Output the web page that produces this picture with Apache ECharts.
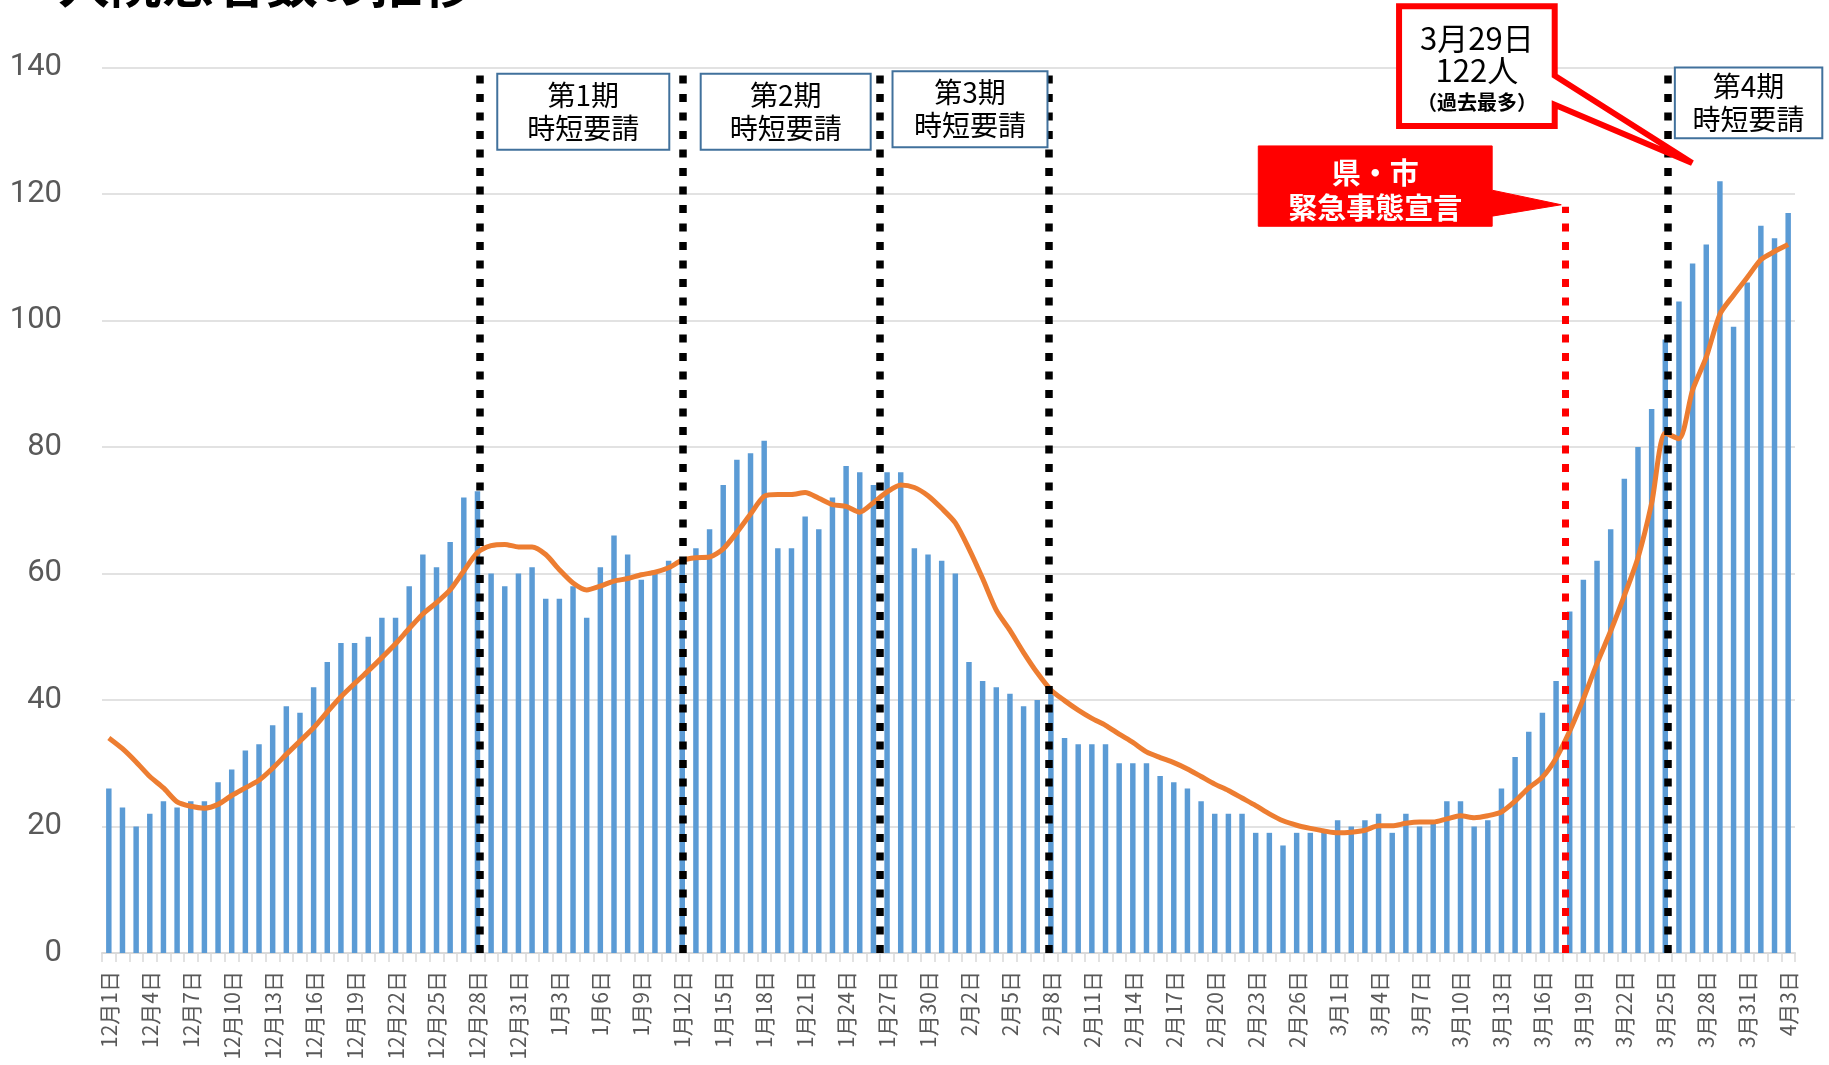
<!DOCTYPE html>
<html>
<head>
<meta charset="utf-8">
<script src="https://cdn.jsdelivr.net/npm/echarts@6/dist/echarts.min.js"></script>
<style>
html,body{margin:0;padding:0;background:#ffffff;}
#main{width:1829px;height:1065px;}
</style>
</head>
<body>
<div id="main"></div>
<script>
// ---------- categories (Dec 1 .. Apr 3) ----------
const monthDays = [[12, 31], [1, 31], [2, 28], [3, 31], [4, 3]];
const categories = [];
monthDays.forEach(function (md) { for (let d = 1; d <= md[1]; d++) categories.push(md[0] + '月' + d + '日'); });

// ---------- daily values (bars) ----------
const casesDec = [26, 23, 20, 22, 24, 23, 24, 24, 27, 29, 32, 33, 36, 39, 38, 42, 46, 49, 49, 50, 53, 53, 58, 63, 61, 65, 72, 73, 60, 58, 60];
const casesJan = [61, 56, 56, 58, 53, 61, 66, 63, 59, 60, 62, 62, 64, 67, 74, 78, 79, 81, 64, 64, 69, 67, 72, 77, 76, 74, 76, 76, 64, 63, 62];
const casesFeb = [60, 46, 43, 42, 41, 39, 40, 41, 34, 33, 33, 33, 30, 30, 30, 28, 27, 26, 24, 22, 22, 22, 19, 19, 17, 19, 19, 19];
const casesMar = [21, 20, 21, 22, 19, 22, 20, 21, 24, 24, 20, 21, 26, 31, 35, 38, 43, 54, 59, 62, 67, 75, 80, 86, 97, 103, 109, 112, 122, 99, 106];
const casesApr = [115, 113, 117];

// ---------- average line (orange) ----------
const avgDec = [34.0, 32.3, 30.2, 27.9, 26.1, 23.9, 23.2, 22.9, 23.5, 24.9, 26.1, 27.3, 29.2, 31.4, 33.5, 35.6, 38.1, 40.5, 42.6, 44.6, 46.7, 48.9, 51.3, 53.6, 55.4, 57.4, 60.4, 63.3, 64.4, 64.6, 64.2];
const avgJan = [64.2, 63.0, 60.6, 58.5, 57.4, 58.0, 58.8, 59.2, 59.8, 60.2, 60.9, 62.1, 62.5, 62.6, 63.9, 66.5, 69.4, 72.2, 72.5, 72.5, 72.8, 71.9, 70.9, 70.6, 69.7, 71.2, 72.9, 74.0, 73.6, 72.3, 70.3];
const avgFeb = [68.0, 63.9, 59.2, 54.2, 51.0, 47.5, 44.3, 41.6, 39.9, 38.4, 37.1, 36.0, 34.6, 33.3, 31.8, 30.9, 30.1, 29.1, 27.9, 26.7, 25.7, 24.5, 23.3, 22.0, 20.9, 20.2, 19.7, 19.3];
const avgMar = [19.0, 19.1, 19.4, 20.1, 20.1, 20.5, 20.7, 20.7, 21.2, 21.7, 21.4, 21.7, 22.3, 24.0, 26.1, 27.8, 30.8, 35.1, 40.2, 45.8, 50.9, 56.5, 62.5, 71.1, 82.2, 81.3, 89.0, 94.2, 101.0, 104.0, 106.8];
const avgApr = [109.6, 110.9, 112.0];

// ---------- axis ----------
const yMin = 0, yMax = 140, yStep = 20;
const titleText = '入院患者数の推移';

// ---------- annotations (category index, value) ----------
const blackLines = [27.2, 42.05, 56.5, 68.85, 114.15];
const redLine = { x: 106.65, top: 118 };
const periodBoxes = [
  { text: '第1期\n時短要請', x0: 28.45, x1: 41.05, y0: 139.0, y1: 127.0 },
  { text: '第2期\n時短要請', x0: 43.35, x1: 55.8, y0: 139.0, y1: 127.0 },
  { text: '第3期\n時短要請', x0: 57.4, x1: 68.75, y0: 139.4, y1: 127.4 },
  { text: '第4期\n時短要請', x0: 114.7, x1: 125.5, y0: 140.0, y1: 128.8 }
];
const peakNote = { lines: ['3月29日', '122人', '（過去最多）'], lineY: [144.6, 139.6, 134.5], x0: 94.5, x1: 105.9, y0: 149.7, y1: 130.75, p1: 138.7, p2: 134.1, tip: [115.97, 124.9] };
const declNote = { lines: ['県・市', '緊急事態宣言'], lineY: [123.35, 117.8], x0: 84.19, x1: 101.32, y0: 127.6, y1: 114.9, p1: 120.6, p2: 116.5, tip: [106.38, 118.3] };

const cases = [].concat(casesDec, casesJan, casesFeb, casesMar, casesApr);
const avg = [].concat(avgDec, avgJan, avgFeb, avgMar, avgApr);

const CJK = '"Noto Sans CJK JP", "Noto Sans", sans-serif';

const lineData = blackLines.map(function (x) {
  return [{ coord: [x, 0], lineStyle: { color: '#000000', width: 7.5, type: [8, 10.5], cap: 'butt' } }, { coord: [x, 139.6] }];
});
lineData.push([{ coord: [redLine.x, 0], lineStyle: { color: '#ff0000', width: 7, type: [8, 10.5], cap: 'butt' } }, { coord: [redLine.x, redLine.top] }]);

const option = {
  animation: false,
  backgroundColor: '#ffffff',
  grid: { left: 102, right: 34, top: 67.5, bottom: 112, containLabel: false, outerBoundsMode: 'none' },
  xAxis: [
    {
      type: 'category',
      data: categories,
      boundaryGap: true,
      axisLine: { show: true, lineStyle: { color: '#d9d9d9', width: 2 } },
      axisTick: { show: true, interval: 0, alignWithLabel: false, length: 9, lineStyle: { color: '#d9d9d9', width: 1.5 } },
      axisLabel: { interval: 2, rotate: 90, margin: 18, color: '#595959', fontSize: 21, fontFamily: CJK },
      splitLine: { show: false }
    },
    { type: 'value', min: -0.5, max: 123.5, show: false, splitLine: { show: false } }
  ],
  yAxis: {
    type: 'value', min: yMin, max: yMax, interval: yStep,
    axisLine: { show: false }, axisTick: { show: false },
    axisLabel: { color: '#595959', fontSize: 31, margin: 40, fontFamily: 'Roboto, sans-serif' },
    splitLine: { lineStyle: { color: '#d9d9d9', width: 1.5 } }
  },
  series: [
    { name: '入院患者数', type: 'bar', data: cases, barWidth: '40%', itemStyle: { color: '#5b9bd5' }, z: 2, silent: true },
    { name: '平均', type: 'line', data: avg, smooth: 0.25, symbol: 'none', lineStyle: { color: '#ed7d31', width: 5 }, z: 3, silent: true },
    {
      type: 'scatter', xAxisIndex: 1, yAxisIndex: 0, data: [], z: 10, silent: true, clip: false,
      markLine: { silent: true, symbol: ['none', 'none'], label: { show: false }, animation: false, data: lineData }
    }
  ]
};

const chart = echarts.init(document.getElementById('main'));
chart.setOption(option);

function px(i, v) {
  return [chart.convertToPixel({ xAxisIndex: 1 }, i), chart.convertToPixel({ yAxisIndex: 0 }, v)];
}
function txt(x, y, text, font, fill, lh, z) {
  return { type: 'text', x: x, y: y, z: z, silent: true,
    style: { text: text, font: font, fill: fill, align: 'center', verticalAlign: 'middle', textAlign: 'center', textVerticalAlign: 'middle', lineHeight: lh } };
}
function callout(n) {
  const a = px(n.x0, n.y0), b = px(n.x1, n.y1), q1 = px(n.x1, n.p1), q2 = px(n.x1, n.p2), t = px(n.tip[0], n.tip[1]);
  return [[a[0], a[1]], [b[0], a[1]], [b[0], q1[1]], [t[0], t[1]], [b[0], q2[1]], [b[0], b[1]], [a[0], b[1]]];
}

const graphics = [];
graphics.push({ type: 'text', x: 58, y: -17, z: 50, silent: true,
  style: { text: titleText, font: 'bold 52px ' + CJK, fill: '#000000', verticalAlign: 'middle', textVerticalAlign: 'middle' } });

periodBoxes.forEach(function (bx) {
  const p0 = px(bx.x0, bx.y0), p1 = px(bx.x1, bx.y1);
  graphics.push({ type: 'rect', z: 5, silent: true, shape: { x: p0[0], y: p0[1], width: p1[0] - p0[0], height: p1[1] - p0[1] },
    style: { fill: '#ffffff', stroke: '#41719c', lineWidth: 2 } });
  graphics.push(txt((p0[0] + p1[0]) / 2, (p0[1] + p1[1]) / 2, bx.text, '28px ' + CJK, '#000000', 33, 6));
});

// peak callout
graphics.push({ type: 'polygon', z: 20, silent: true, shape: { points: callout(peakNote) },
  style: { fill: '#ffffff', stroke: '#ff0000', lineWidth: 6, lineJoin: 'miter' } });
(function () {
  const cx = (px(peakNote.x0, 0)[0] + px(peakNote.x1, 0)[0]) / 2;
  graphics.push(txt(cx, px(0, peakNote.lineY[0])[1], peakNote.lines[0], '31px ' + CJK, '#000000', 34, 21));
  graphics.push(txt(cx, px(0, peakNote.lineY[1])[1], peakNote.lines[1], '31px ' + CJK, '#000000', 34, 21));
  graphics.push(txt(cx, px(0, peakNote.lineY[2])[1], peakNote.lines[2], 'bold 20px ' + CJK, '#000000', 22, 21));
})();

// declaration banner
graphics.push({ type: 'polygon', z: 20, silent: true, shape: { points: callout(declNote) },
  style: { fill: '#ff0000', stroke: '#ff0000', lineWidth: 1 } });
(function () {
  const cx = (px(declNote.x0, 0)[0] + px(declNote.x1, 0)[0]) / 2;
  graphics.push(txt(cx, px(0, declNote.lineY[0])[1], declNote.lines[0], 'bold 29px ' + CJK, '#ffffff', 32, 21));
  graphics.push(txt(cx, px(0, declNote.lineY[1])[1], declNote.lines[1], 'bold 29px ' + CJK, '#ffffff', 32, 21));
})();

chart.setOption({ graphic: { elements: graphics } });
</script>
</body>
</html>
